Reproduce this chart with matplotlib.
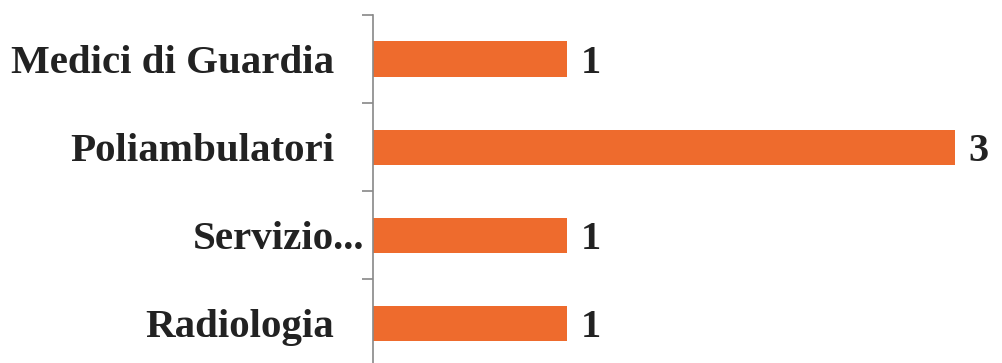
import matplotlib.pyplot as plt
from matplotlib.transforms import ScaledTranslation

categories = ['Medici di Guardia', 'Poliambulatori', 'Servizio...', 'Radiologia']
values = [1, 3, 1, 1]

fig = plt.figure(figsize=(10.03, 3.63), dpi=100)
ax = fig.add_axes([373 / 1003, 0, 1 - 373 / 1003, 1 - 15 / 363])

ypos = list(range(len(categories)))
bars = ax.barh(ypos, values, height=0.4, color='#EE6B2D')

ax.set_ylim(3.45, -0.5)
ax.set_xlim(0, (1003 - 373) / 194)

ax.set_yticks(ypos)
ax.set_yticklabels(categories, family='Liberation Serif', fontweight='bold', fontsize=29.5, color='#222222')
ax.tick_params(axis='y', which='major', length=0, pad=28)
ax.set_yticks([-0.5, 0.5, 1.5, 2.5], minor=True)
ax.tick_params(axis='y', which='minor', length=8, color='#888888', width=1.2)
ax.set_xticks([])

# the truncated label sits right against the axis
lab = ax.get_yticklabels()[2]
lab.set_transform(lab.get_transform() + ScaledTranslation(0.3, 0, fig.dpi_scale_trans))

for s in ['top', 'right', 'bottom']:
    ax.spines[s].set_visible(False)
ax.spines['left'].set_color('#888888')
ax.spines['left'].set_linewidth(1.2)

for b, v in zip(bars, values):
    ax.text(b.get_width() + 0.07, b.get_y() + b.get_height() / 2 + 0.05, str(v),
            va='center', ha='left', family='Liberation Serif', fontweight='bold',
            fontsize=29, color='#222222')

fig.savefig('out.png', dpi=100)
